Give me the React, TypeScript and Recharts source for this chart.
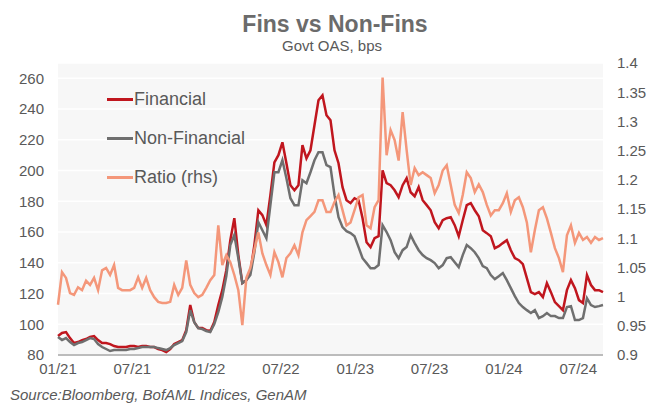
import React from 'react'
import { LineChart, Line, XAxis, YAxis, CartesianGrid, Legend } from 'recharts'

// Govt OAS (bps) at a regular step from 01/21 to ~09/24
const financial = [
  92.3, 94.3, 94.9, 91.0, 87.8, 88.4, 89.7, 90.4, 91.7, 92.3,
  89.7, 87.8, 87.8, 87.1, 85.8, 85.2, 85.2, 85.2, 85.8, 85.8,
  85.2, 85.8, 85.8, 85.2, 85.2, 83.9, 83.2, 81.9, 83.9, 87.1,
  88.4, 89.7, 96.2, 112.5, 101.4, 97.5, 97.5, 96.2, 95.6, 101.4,
  112.5, 122.2, 135.2, 154.7, 169.0, 145.0, 126.8, 128.7, 133.9, 151.5,
  174.2, 171.0, 164.5, 184.0, 205.4, 210.0, 218.4, 204.8, 190.5, 187.2,
  190.5, 216.5, 208.0, 213.2, 229.5, 245.7, 249.0, 236.0, 232.7, 213.2,
  204.8, 189.2, 180.7, 178.8, 182.0, 180.7, 169.0, 153.4, 150.2, 156.0,
  157.3, 200.2, 191.8, 190.5, 187.2, 182.7, 190.5, 195.0, 185.9, 183.3,
  189.2, 180.7, 177.5, 174.2, 166.4, 162.5, 167.7, 169.0, 169.7, 164.5,
  157.3, 167.7, 177.5, 178.8, 174.2, 170.3, 161.2, 159.3, 157.3, 149.5,
  150.8, 152.8, 154.7, 148.2, 143.0, 141.7, 139.1, 130.0, 120.9, 119.6,
  120.9, 117.7, 126.8, 120.9, 114.4, 111.8, 109.2, 122.2, 128.7, 123.5,
  115.7, 113.8, 132.0, 125.5, 122.2, 122.2, 120.9,
]

const nonFinancial = [
  91.7, 89.7, 91.0, 88.4, 86.5, 87.8, 88.4, 89.7, 91.0, 90.4,
  87.1, 85.2, 83.9, 82.6, 83.2, 83.2, 83.2, 83.2, 83.9, 83.9,
  84.5, 85.2, 85.2, 85.2, 85.2, 84.5, 83.9, 83.2, 84.5, 86.5,
  87.8, 89.1, 94.9, 109.2, 101.4, 97.5, 96.9, 95.6, 94.9, 100.1,
  107.9, 117.7, 131.3, 151.5, 158.0, 143.0, 126.8, 128.7, 132.0, 146.9,
  166.4, 161.2, 156.0, 177.5, 198.9, 198.9, 206.7, 195.0, 182.0, 177.5,
  177.5, 193.7, 191.8, 198.9, 206.7, 211.9, 211.9, 203.5, 202.2, 184.0,
  169.7, 163.2, 160.6, 159.3, 157.3, 150.2, 143.0, 139.8, 136.5, 136.5,
  138.5, 164.5, 160.0, 154.7, 146.9, 143.0, 148.2, 150.2, 158.0, 152.8,
  148.2, 145.0, 143.0, 141.7, 139.8, 136.5, 138.5, 143.0, 143.7, 140.4,
  137.2, 145.0, 151.5, 149.5, 146.9, 143.0, 137.8, 136.5, 132.0, 129.4,
  131.3, 133.3, 128.7, 123.5, 118.3, 113.8, 111.2, 109.2, 107.3, 109.2,
  104.0, 105.3, 107.3, 105.3, 105.3, 104.0, 104.0, 111.2, 111.8, 102.7,
  102.7, 104.0, 117.0, 112.5, 111.2, 111.8, 112.5,
]

// Fin / Non-Fin ratio (rhs)
const ratio = [
  0.986, 1.042, 1.032, 1.006, 1.003, 1.016, 1.011, 1.027, 1.020, 1.032,
  1.011, 1.045, 1.049, 1.037, 1.054, 1.015, 1.011, 1.011, 1.011, 1.015,
  1.033, 1.015, 1.032, 1.011, 0.999, 0.991, 0.989, 0.989, 0.991, 1.020,
  1.003, 1.015, 1.062, 1.020, 1.006, 0.999, 1.003, 1.015, 1.028, 1.037,
  1.122, 1.054, 1.071, 1.059, 1.037, 1.011, 0.951, 1.032, 1.049, 1.080,
  1.110, 1.074, 1.054, 1.037, 1.076, 1.059, 1.033, 1.066, 1.074, 1.088,
  1.071, 1.110, 1.131, 1.138, 1.145, 1.165, 1.165, 1.145, 1.145, 1.162,
  1.174, 1.148, 1.122, 1.127, 1.148, 1.170, 1.174, 1.122, 1.117, 1.153,
  1.165, 1.375, 1.242, 1.285, 1.268, 1.233, 1.316, 1.251, 1.191, 1.220,
  1.208, 1.213, 1.208, 1.203, 1.177, 1.191, 1.216, 1.225, 1.191, 1.157,
  1.143, 1.174, 1.213, 1.203, 1.179, 1.192, 1.179, 1.157, 1.139, 1.148,
  1.148, 1.160, 1.177, 1.145, 1.165, 1.170, 1.153, 1.127, 1.076, 1.114,
  1.148, 1.153, 1.134, 1.109, 1.083, 1.066, 1.042, 1.105, 1.122, 1.092,
  1.109, 1.097, 1.102, 1.092, 1.102, 1.097, 1.100,
]

// x in months since 01/21; the series runs to about 09/24
const SPAN_MONTHS = 44
const monthTicks = [0, 6, 12, 18, 24, 30, 36, 42]
const monthLabels = ['01/21', '07/21', '01/22', '07/22', '01/23', '07/23', '01/24', '07/24']
const leftTicks = [80, 100, 120, 140, 160, 180, 200, 220, 240, 260]
const rightTicks = [0.9, 0.95, 1, 1.05, 1.1, 1.15, 1.2, 1.25, 1.3, 1.35, 1.4]

const data = financial.map((f, i) => ({
  t: (i * SPAN_MONTHS) / (financial.length - 1),
  financial: f,
  nonFinancial: nonFinancial[i],
  ratio: ratio[i],
}))

const FONT = '"Liberation Sans", Arial, sans-serif'
const TEXT = '#595959'

const renderLegend = (props: any) => {
  const { payload } = props
  return (
    <div style={{ fontFamily: FONT }}>
      {(payload || []).map((entry: any) => (
        <div key={entry.value} style={{ display: 'flex', alignItems: 'center', height: 39 }}>
          <span style={{ display: 'inline-block', width: 26, height: 3, background: entry.color }} />
          <span style={{ fontSize: 18, color: TEXT, marginLeft: 1 }}>{entry.value}</span>
        </div>
      ))}
    </div>
  )
}

export default function App() {
  return (
    <div
      style={{
        position: 'absolute',
        left: 0,
        top: 0,
        width: 649,
        height: 403,
        background: '#ffffff',
        fontFamily: FONT,
      }}
    >
      <div
        style={{
          position: 'absolute',
          left: 0,
          top: 13,
          width: 670,
          textAlign: 'center',
          fontSize: 23,
          lineHeight: '23px',
          fontWeight: 'bold',
          color: '#6b6b6b',
        }}
      >
        Fins vs Non-Fins
      </div>
      <div
        style={{
          position: 'absolute',
          left: 0,
          top: 38,
          width: 664,
          textAlign: 'center',
          fontSize: 15,
          lineHeight: '15px',
          color: TEXT,
        }}
      >
        Govt OAS, bps
      </div>

      <LineChart width={649} height={403} data={data} margin={{ top: 63, right: 0, bottom: 0, left: 0 }}>
        <CartesianGrid yAxisId="left" vertical={false} fill="#f7f7f7" stroke="#ffffff" strokeWidth={1.5} />
        <XAxis
          dataKey="t"
          type="number"
          domain={[0, SPAN_MONTHS]}
          ticks={monthTicks}
          interval={0}
          tickFormatter={(v: number) => monthLabels[monthTicks.indexOf(v)] ?? ''}
          height={48}
          tickSize={0}
          tickMargin={8}
          axisLine={{ stroke: '#a6a6a6', strokeWidth: 1.5 }}
          tick={{ fill: TEXT, fontSize: 15, fontFamily: FONT }}
        />
        <YAxis
          yAxisId="left"
          domain={[80, 270]}
          ticks={leftTicks}
          interval={0}
          width={58}
          axisLine={false}
          tickSize={0}
          tickMargin={14}
          tick={{ fill: TEXT, fontSize: 15, fontFamily: FONT }}
        />
        <YAxis
          yAxisId="right"
          orientation="right"
          domain={[0.9, 1.4]}
          ticks={rightTicks}
          interval={0}
          width={46}
          axisLine={false}
          tickSize={0}
          tickMargin={14}
          tickFormatter={(v: number) => String(+v.toFixed(2))}
          tick={{ fill: TEXT, fontSize: 15, fontFamily: FONT, textAnchor: 'start' }}
        />
        <Legend
          layout="vertical"
          align="center"
          verticalAlign="middle"
          content={renderLegend}
          wrapperStyle={{ position: 'absolute', left: 107, top: 80, width: 'auto', height: 'auto' }}
        />
        <Line
          yAxisId="left"
          type="linear"
          dataKey="financial"
          name="Financial"
          stroke="#c0161e"
          strokeWidth={2.5}
          dot={false}
          activeDot={false}
          isAnimationActive={false}
        />
        <Line
          yAxisId="left"
          type="linear"
          dataKey="nonFinancial"
          name="Non-Financial"
          stroke="#6f6f6f"
          strokeWidth={2.5}
          dot={false}
          activeDot={false}
          isAnimationActive={false}
        />
        <Line
          yAxisId="right"
          type="linear"
          dataKey="ratio"
          name="Ratio (rhs)"
          stroke="#f4977a"
          strokeWidth={2.5}
          dot={false}
          activeDot={false}
          isAnimationActive={false}
        />
      </LineChart>

      <div
        style={{
          position: 'absolute',
          left: 10,
          top: 387,
          fontSize: 15,
          lineHeight: '15px',
          fontStyle: 'italic',
          color: TEXT,
          whiteSpace: 'nowrap',
        }}
      >
        Source:Bloomberg, BofAML Indices, GenAM
      </div>
    </div>
  )
}
